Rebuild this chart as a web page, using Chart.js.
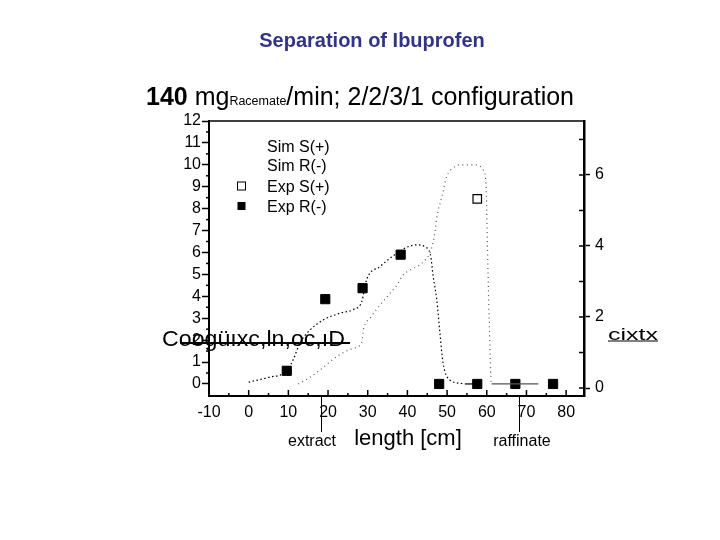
<!DOCTYPE html>
<html>
<head>
<meta charset="utf-8">
<script src="https://cdn.jsdelivr.net/npm/chart.js@4.4.1/dist/chart.umd.min.js"></script>
<style>
html,body{margin:0;padding:0;background:#fff;}
#c{display:block;}
</style>
</head>
<body>
<canvas id="c" width="720" height="540"></canvas>
<script>
// ---- data ----
const xTicks = [-10, 0, 10, 20, 30, 40, 50, 60, 70, 80];
const leftTicks = [0, 1, 2, 3, 4, 5, 6, 7, 8, 9, 10, 11, 12];
const rightTicks = [0, 2, 4, 6];

const seriesNames = ['Sim S(+)', 'Sim R(-)', 'Exp S(+)', 'Exp R(-)'];

const simSx = [12.5, 15, 18, 22.2, 26.4, 28.5, 28.9, 30.6, 33.1, 35.6, 37.3, 38.9, 41.2, 43.6, 46.1, 47, 47.4, 48.7, 49.9, 51.5, 53.3, 57.5, 59.1, 59.8, 60.2, 60.6, 61.2, 73];
const simSy = [0, 0.25, 0.64, 1.25, 1.63, 1.9, 2.47, 3.0, 3.6, 4.13, 4.5, 4.97, 5.25, 5.5, 6.2, 7.0, 7.6, 8.55, 9.47, 9.85, 10.0, 10.0, 9.77, 9.16, 6.0, 3.0, 0, 0];

const simRx = [0, 5, 9.6, 11.2, 12.9, 15.5, 18.8, 23, 26.4, 28.5, 29.7, 33.1, 37.3, 40, 42.3, 44.5, 45.8, 46.5, 47.4, 48.2, 49, 50.7, 53.3, 54.5, 58];
const simRy = [0.08, 0.3, 0.6, 1.1, 1.86, 2.47, 2.92, 3.23, 3.4, 3.76, 4.75, 5.36, 5.96, 6.25, 6.35, 6.25, 5.9, 4.9, 3.84, 2.3, 0.94, 0.18, 0.03, 0, 0];

const expSx = [57.6];
const expSy = [8.45];

const expRx = [9.6, 19.3, 28.7, 38.3, 48, 57.6, 67.2, 76.7];
const expRy = [0.6, 3.87, 4.37, 5.9, 0, 0, 0, 0];

const FONT = "'Liberation Sans', Arial, Helvetica, sans-serif";

function pts(xs, ys) { return xs.map((x, i) => ({ x: x, y: ys[i] })); }
function dashSeg(d) {
  return ctx => (ctx.p0.parsed.y === 0 && ctx.p1.parsed.y === 0) ? [] : d;
}
function fitText(ctx, txt, x, y, w) {
  const m = ctx.measureText(txt).width;
  ctx.save();
  ctx.translate(x, y);
  ctx.scale(w / m, 1);
  ctx.fillText(txt, 0, 0);
  ctx.restore();
}

const decor = {
  id: 'decor',
  afterDraw(chart) {
    const ctx = chart.ctx;
    const xs = chart.scales.x, yl = chart.scales.y, yr = chart.scales.y2;
    const a = chart.chartArea;
    ctx.save();
    ctx.fillStyle = '#000';
    ctx.strokeStyle = '#000';

    // top frame line
    ctx.lineWidth = 1.5;
    ctx.beginPath(); ctx.moveTo(a.left, a.top); ctx.lineTo(a.right, a.top); ctx.stroke();

    // x ticks (inside)
    xTicks.forEach(v => {
      const p = xs.getPixelForValue(v);
      ctx.beginPath(); ctx.moveTo(p, a.bottom); ctx.lineTo(p, a.bottom - 6); ctx.stroke();
      const m = xs.getPixelForValue(v + 5);
      if (m < a.right) { ctx.beginPath(); ctx.moveTo(m, a.bottom); ctx.lineTo(m, a.bottom - 3); ctx.stroke(); }
    });
    // left minor ticks (outside)
    leftTicks.forEach(v => {
      if (v >= 12) return;
      const p = yl.getPixelForValue(v + 0.5);
      ctx.beginPath(); ctx.moveTo(a.left, p); ctx.lineTo(a.left - 3, p); ctx.stroke();
    });
    // right ticks (inside part)
    rightTicks.forEach(v => {
      const p = yr.getPixelForValue(v + 1);
      ctx.beginPath(); ctx.moveTo(a.right, p); ctx.lineTo(a.right - 5, p); ctx.stroke();
      const q = yr.getPixelForValue(v);
      ctx.beginPath(); ctx.moveTo(a.right, q); ctx.lineTo(a.right - 5, q); ctx.stroke();
    });

    // title
    ctx.textBaseline = 'alphabetic';
    ctx.textAlign = 'center';
    ctx.fillStyle = '#333385';
    ctx.font = "bold 20px " + FONT;
    ctx.fillText('Separation of Ibuprofen', 372, 47);

    // subtitle with mixed fonts
    ctx.fillStyle = '#000';
    ctx.textAlign = 'left';
    let x = 146;
    const base = 105;
    const parts = [
      ["bold 25px " + FONT, '140 '],
      ["25px " + FONT, 'mg'],
      ["12.5px " + FONT, 'Racemate'],
      ["25px " + FONT, '/min; 2/2/3/1 configuration']
    ];
    parts.forEach(pp => {
      ctx.font = pp[0];
      ctx.fillText(pp[1], x, base);
      x += ctx.measureText(pp[1]).width;
    });

    // legend
    ctx.font = "16px " + FONT;
    const legY = [152, 171, 192, 212];
    chart.data.datasets.forEach((ds, i) => {
      ctx.fillStyle = '#000';
      ctx.fillText(ds.label, 267, legY[i]);
      if (ds.showLine === false) {
        const cy = legY[i] - 6;
        ctx.lineWidth = 1;
        if (ds.backgroundColor === '#000') {
          ctx.fillRect(237.5, cy - 4, 8, 8);
        } else {
          ctx.strokeRect(237.5, cy - 4, 8, 8);
        }
      }
    });

    // garbled y-axis labels (as in the reference)
    ctx.fillStyle = '#000';
    ctx.font = "22px " + FONT;
    fitText(ctx, 'Coogüıxc,ln,oc,ıD', 162, 346, 183);
    ctx.lineWidth = 2;
    ctx.beginPath(); ctx.moveTo(180, 343); ctx.lineTo(350, 343); ctx.stroke();

    ctx.font = "17px " + FONT;
    fitText(ctx, 'cixtx', 608, 340, 50);
    ctx.lineWidth = 1.2;
    ctx.beginPath(); ctx.moveTo(608, 341); ctx.lineTo(658, 341); ctx.stroke();

    // extract / raffinate markers
    ctx.lineWidth = 1;
    [[18.2, 'extract', 312], [68, 'raffinate', 522]].forEach(m => {
      const p = Math.round(xs.getPixelForValue(m[0])) + 0.5;
      ctx.beginPath(); ctx.moveTo(p, a.bottom); ctx.lineTo(p, 432); ctx.stroke();
      ctx.font = "16px " + FONT;
      ctx.textAlign = 'center';
      ctx.fillText(m[1], m[2], 446);
    });

    // x axis title
    ctx.font = "22px " + FONT;
    ctx.textAlign = 'center';
    ctx.fillText('length [cm]', 408, 445);

    ctx.restore();
  }
};

new Chart(document.getElementById('c'), {
  type: 'scatter',
  data: {
    datasets: [
      {
        label: seriesNames[0], data: pts(simSx, simSy), showLine: true,
        borderColor: '#555', borderWidth: 1.2, borderDash: [1, 3.5], pointRadius: 0,
        cubicInterpolationMode: 'monotone', segment: { borderDash: dashSeg([1, 3.5]) },
        yAxisID: 'y'
      },
      {
        label: seriesNames[1], data: pts(simRx, simRy), showLine: true,
        borderColor: '#000', borderWidth: 1.2, borderDash: [1.5, 2.5], pointRadius: 0,
        cubicInterpolationMode: 'monotone', segment: { borderDash: dashSeg([1.5, 2.5]) },
        yAxisID: 'y'
      },
      {
        label: seriesNames[2], data: pts(expSx, expSy), showLine: false,
        pointStyle: 'rect', pointRadius: 6, backgroundColor: '#fff', borderColor: '#000', borderWidth: 1.2,
        yAxisID: 'y'
      },
      {
        label: seriesNames[3], data: pts(expRx, expRy), showLine: false,
        pointStyle: 'rect', pointRadius: 6.5, backgroundColor: '#000', borderColor: '#000', borderWidth: 1,
        yAxisID: 'y'
      }
    ]
  },
  options: {
    responsive: false,
    animation: false,
    devicePixelRatio: 1,
    layout: { padding: { top: 121, left: 0, right: 0, bottom: 0 } },
    plugins: { legend: { display: false }, tooltip: { enabled: false }, title: { display: false } },
    scales: {
      x: {
        type: 'linear', position: 'bottom', min: -10, max: 84.5,
        afterBuildTicks: s => { s.ticks = xTicks.map(v => ({ value: v })); },
        afterFit: s => { s.height = 144; },
        grid: { display: true, drawOnChartArea: false, drawTicks: false, color: '#000' },
        border: { display: true, color: '#000', width: 2 },
        ticks: { color: '#000', font: { family: FONT, size: 16 }, padding: 7, maxRotation: 0, autoSkip: false }
      },
      y: {
        type: 'linear', position: 'left', min: -0.55, max: 12,
        afterBuildTicks: s => { s.ticks = leftTicks.map(v => ({ value: v })); },
        afterFit: s => { s.width = 209; },
        grid: { display: true, drawOnChartArea: false, drawTicks: true, tickLength: 7, color: '#000', tickWidth: 1.5 },
        border: { display: true, color: '#000', width: 2 },
        ticks: { color: '#000', font: { family: FONT, size: 16 }, padding: 1, autoSkip: false }
      },
      y2: {
        type: 'linear', position: 'right', min: -0.225, max: 7.52,
        afterBuildTicks: s => { s.ticks = rightTicks.map(v => ({ value: v })); },
        afterFit: s => { s.width = 136; },
        grid: { display: true, drawOnChartArea: false, drawTicks: true, tickLength: 6, color: '#000', tickWidth: 1.5 },
        border: { display: true, color: '#000', width: 2.5 },
        ticks: { color: '#000', font: { family: FONT, size: 16 }, padding: 5, autoSkip: false }
      }
    }
  },
  plugins: [decor]
});
</script>
</body>
</html>
